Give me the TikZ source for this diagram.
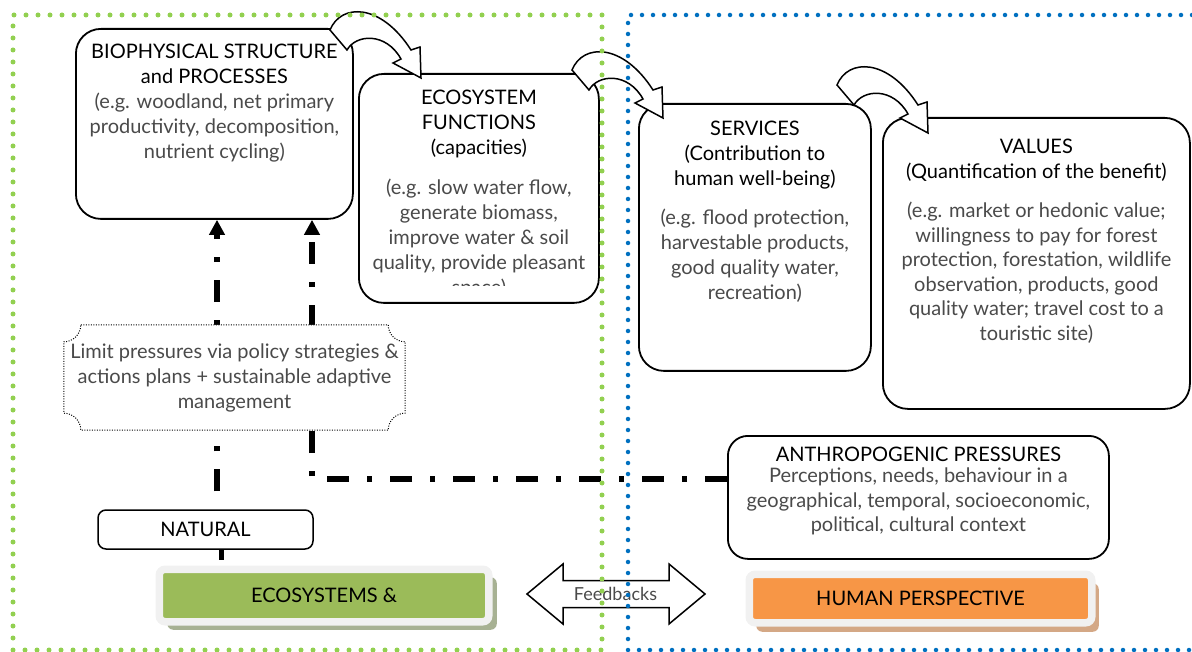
\documentclass[tikz,border=0pt]{standalone}
\usepackage{fontspec}
\setmainfont{Lato}
\usepackage{tikz}
\usetikzlibrary{positioning, arrows.meta, shadows}

\definecolor{dotgreen}{HTML}{92D050}
\definecolor{dotblue}{HTML}{0070C0}
\definecolor{bargreen}{HTML}{9BBB59}
\definecolor{barorange}{HTML}{F79646}
\definecolor{framegray}{HTML}{F1F1F1}
\definecolor{greenshadow}{HTML}{A7B193}
\definecolor{orangeshadow}{HTML}{D4A886}
\definecolor{textgray}{HTML}{4A4A4A}

\tikzset{
  bigbox/.style={draw=black, line width=1.8pt, rounded corners=25pt, fill=white, inner sep=0pt},
  headtext/.style={align=center, inner sep=0pt, font=\fontsize{20}{25}\selectfont, text=black},
  detailtext/.style={align=center, inner sep=0pt, font=\fontsize{20}{25}\selectfont, text=textgray},
  pressure/.style={line width=5.5pt, dash pattern=on 22pt off 18pt on 5pt off 18pt, -{Triangle[width=15pt,length=15pt]}},
  blockarrow/.style={draw=black, line width=1.5pt, fill=white},
  limitline/.style={draw=black, line width=1pt, dash pattern=on 1pt off 1.5pt, fill=white},
  greendots/.style={dotgreen, line width=5pt, line cap=round, dash pattern=on 0pt off 12pt},
  bluedots/.style={dotblue, line width=4.5pt, line cap=round, dash pattern=on 0pt off 11pt},
  greenbar/.style={fill=bargreen, draw=framegray, line width=7.5pt, rounded corners=6pt, minimum width=329.5pt, minimum height=52.5pt, font=\fontsize{20}{25}\selectfont, drop shadow={shadow xshift=8pt, shadow yshift=-8pt, fill=greenshadow, opacity=1}},
  orangebar/.style={fill=barorange, draw=framegray, line width=7.5pt, rounded corners=6pt, minimum width=342.5pt, minimum height=48.5pt, font=\fontsize{20}{25}\selectfont, drop shadow={shadow xshift=7pt, shadow yshift=-9pt, fill=orangeshadow, opacity=1}},
  bendarrow/.pic={
    \draw[blockarrow] (-91,-48) .. controls (-80,-75) and (-40,-75) .. (-10,-28) -- (-1,-31) -- (0,0) -- (-28,-15) -- (-20,-19) .. controls (-35,-46) and (-65,-44) .. (-74,-28) -- cycle;
  }
}

\begin{document}
\begin{tikzpicture}[x=1pt, y=-1pt]
\useasboundingbox (0,0) rectangle (1192,652);

% boxes
\node[bigbox, anchor=north west, minimum width=277pt, minimum height=190pt] (bio) at (75,28) {};
\node[bigbox, anchor=north west, minimum width=240pt, minimum height=229pt] (eco) at (358,73) {};
\node[bigbox, anchor=north west, minimum width=232pt, minimum height=267pt] (serv) at (638,103) {};
\node[bigbox, anchor=north west, minimum width=307pt, minimum height=291pt] (val) at (882,117) {};
\node[bigbox, rounded corners=20pt, anchor=north west, minimum width=381pt, minimum height=123pt] (anthro) at (727,435) {};
\node[bigbox, rounded corners=8pt, line width=1.5pt, minimum width=215pt, minimum height=39pt, font=\fontsize{20}{25}\selectfont] (natural) at (205.5,529.5) {NATURAL};

% pressures
\coordinate (turn) at (312,479);
\draw[pressure, -] ([xshift=16pt]natural.south) -- ([xshift=16pt]natural.south |- 0,560);
\draw[pressure, dash phase=45pt] ([xshift=11.5pt]natural.north) -- ([xshift=11.5pt]natural.north |- bio.south);
\draw[pressure] (anthro.west |- turn) -- (turn) -- (turn |- bio.south);

% limit box
\node[minimum width=341pt, minimum height=105pt] (limit) at (234.5,377.5) {};
\draw[limitline] ([xshift=17pt]limit.north west) -- ([xshift=-17pt]limit.north east)
  .. controls +(0,9.4) and +(-9.4,0) .. ([yshift=-17pt]limit.north east)
  -- ([yshift=17pt]limit.south east)
  .. controls +(-9.4,0) and +(0,-9.4) .. ([xshift=-17pt]limit.south east)
  -- ([xshift=17pt]limit.south west)
  .. controls +(0,-9.4) and +(9.4,0) .. ([yshift=17pt]limit.south west)
  -- ([yshift=-17pt]limit.north west)
  .. controls +(9.4,0) and +(0,9.4) .. ([xshift=17pt]limit.north west) -- cycle;
\node[detailtext] (limittext) at (limit.center) {Limit pressures via policy strategies \&\\actions plans + sustainable adaptive\\management};

% bars
\node[greenbar] (ecobar) at (324,595.5) {ECOSYSTEMS \&};
\node[orangebar] (humanbar) at (920.5,598.5) {HUMAN PERSPECTIVE};
\node[inner sep=0pt, font=\fontsize{18}{22}\selectfont, text=textgray] (fb) at (615.5,594) {Feedbacks};
\draw[blockarrow, fill=none] (fb.center) ++(-88.5,0) -- ++(36,-30) -- ++(0,16.5) -- ++(106,0) -- ++(0,-16.5) -- ++(36,30) -- ++(-36,30) -- ++(0,-16.5) -- ++(-106,0) -- ++(0,16.5) -- cycle;

% texts
\node[headtext, anchor=north] (biohead) at ([yshift=-16pt]bio.north) {BIOPHYSICAL STRUCTURE\\and PROCESSES};
\node[detailtext, below=9pt of biohead] (biodetail) {(e.g. woodland, net primary\\productivity, decomposition,\\nutrient cycling)};

\node[headtext, anchor=north] (ecohead) at ([yshift=-17pt]eco.north) {ECOSYSTEM\\FUNCTIONS\\(capacities)};
\begin{scope}
  \clip (eco.north west) rectangle ([yshift=18pt]eco.south east);
  \node[detailtext, below=20pt of ecohead] (ecodetail) {(e.g. slow water flow,\\generate biomass,\\improve water \& soil\\quality, provide pleasant\\space)};
\end{scope}

\node[headtext, anchor=north] (servhead) at ([yshift=-18pt]serv.north) {SERVICES\\(Contribution to\\human well-being)};
\node[detailtext, below=19pt of servhead] (servdetail) {(e.g. flood protection,\\harvestable products,\\good quality water,\\recreation)};

\node[headtext, anchor=north] (valhead) at ([yshift=-22pt]val.north) {VALUES\\(Quantification of the benefit)};
\node[detailtext, font=\fontsize{20}{24.5}\selectfont, below=20pt of valhead] (valdetail) {(e.g. market or hedonic value;\\willingness to pay for forest\\protection, forestation, wildlife\\observation, products, good\\quality water; travel cost to a\\touristic site)};

\node[headtext, anchor=north] (anthrohead) at ([yshift=-12pt]anthro.north) {ANTHROPOGENIC PRESSURES};
\node[detailtext, font=\fontsize{20}{24.5}\selectfont, below=6pt of anthrohead] (anthrodetail) {Perceptions, needs, behaviour in a\\geographical, temporal, socioeconomic,\\political, cultural context};

% bent arrows
\pic at ([shift={(63,5)}]eco.north west) {bendarrow};
\pic at ([shift={(25,15)}]serv.north west) {bendarrow};
\pic at ([shift={(46,16)}]val.north west) {bendarrow};

% frames
\draw[greendots] (13,650) -- (13,15) -- (602,15) -- (602,650) -- cycle;
\draw[bluedots] (1192,15) -- (628,15) -- (628,650) -- (1192,650);
\end{tikzpicture}
\end{document}
